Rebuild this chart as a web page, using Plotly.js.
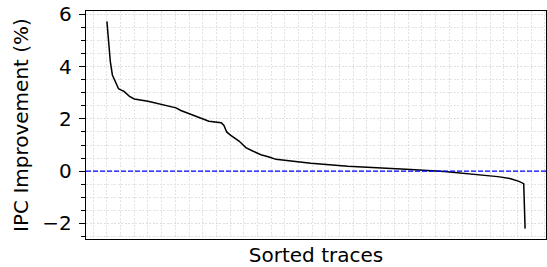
<!DOCTYPE html>
<html>
<head>
<meta charset="utf-8">
<script src="https://cdn.plot.ly/plotly-3.0.1.min.js"></script>
<style>html,body{margin:0;padding:0;background:#fff;}#chart{width:547px;height:267px;}</style>
</head>
<body>
<div id="chart"></div>
<script>
// Sorted trace rank (x) and IPC improvement in % (y)
const traceRank = [0, 2, 5, 8, 11, 14, 17, 21, 25, 33, 40, 60, 79, 101, 108, 123, 137, 149, 167, 171, 175, 181, 193, 203, 213, 225, 237, 247, 266, 298, 352, 400, 444, 493, 528, 547, 571, 590, 602, 609, 611];
const ipcImprovement = [5.73, 5.0, 4.19, 3.68, 3.5, 3.3, 3.15, 3.1, 3.05, 2.86, 2.76, 2.67, 2.55, 2.42, 2.32, 2.17, 2.04, 1.91, 1.85, 1.75, 1.50, 1.37, 1.15, 0.90, 0.77, 0.63, 0.54, 0.45, 0.40, 0.30, 0.19, 0.11, 0.06, -0.01, -0.09, -0.15, -0.21, -0.29, -0.39, -0.48, -2.20];
const yTickVals = [-2, 0, 2, 4, 6];
const xTitle = "Sorted traces";
const yTitle = "IPC Improvement (%)";
const baseline = 0;

const n = traceRank[traceRank.length - 1];
const yMin = Math.min(...ipcImprovement), yMax = Math.max(...ipcImprovement);
const yPad = (yMax - yMin) * 0.05;
const xPad = n * 0.05;

const gridStyle = {color: '#dcdcdc', dash: '2px,1.5px', width: 0.8};

const trace = {
  x: traceRank, y: ipcImprovement, type: 'scatter', mode: 'lines',
  line: {color: '#000000', width: 1.5}, hoverinfo: 'skip', showlegend: false
};

const layout = {
  width: 547, height: 267,
  margin: {l: 86, r: 1, t: 11, b: 28},
  paper_bgcolor: '#ffffff', plot_bgcolor: '#ffffff',
  font: {family: 'DejaVu Sans', color: '#000000'},
  xaxis: {
    range: [-xPad, n + xPad], showticklabels: false, ticks: '',
    tick0: 0, dtick: 100,
    showgrid: true, gridcolor: gridStyle.color, griddash: gridStyle.dash, gridwidth: gridStyle.width,
    minor: {tick0: 0, dtick: 20, showgrid: true, gridcolor: gridStyle.color, griddash: gridStyle.dash, gridwidth: gridStyle.width, ticks: ''},
    zeroline: false, showline: true, mirror: true, linecolor: '#000000', linewidth: 1.3,
    title: {text: xTitle, font: {size: 20, family: 'DejaVu Sans'}, standoff: 8},
    automargin: false
  },
  yaxis: {
    range: [yMin - yPad, yMax + yPad], tickvals: yTickVals, ticks: 'outside', ticklen: 6, tickwidth: 1.2, tickcolor: '#000',
    tickfont: {size: 20, family: 'DejaVu Sans'}, ticklabelstandoff: 3,
    showgrid: true, gridcolor: gridStyle.color, griddash: gridStyle.dash, gridwidth: gridStyle.width,
    minor: {tick0: 0, dtick: 0.5, ticks: 'outside', ticklen: 3.5, tickwidth: 1, tickcolor: '#000', showgrid: true, gridcolor: gridStyle.color, griddash: gridStyle.dash, gridwidth: gridStyle.width},
    zeroline: false, showline: true, mirror: true, linecolor: '#000000', linewidth: 1.3,
    title: {text: yTitle, font: {size: 20, family: 'DejaVu Sans'}, standoff: 8},
    automargin: false
  },
  shapes: [{
    type: 'line', xref: 'paper', x0: 0, x1: 1, yref: 'y', y0: baseline, y1: baseline,
    line: {color: '#0000ff', width: 1.3, dash: '5px,2px'}
  }]
};

Plotly.newPlot('chart', [trace], layout, {staticPlot: true, displayModeBar: false});
</script>
</body>
</html>
